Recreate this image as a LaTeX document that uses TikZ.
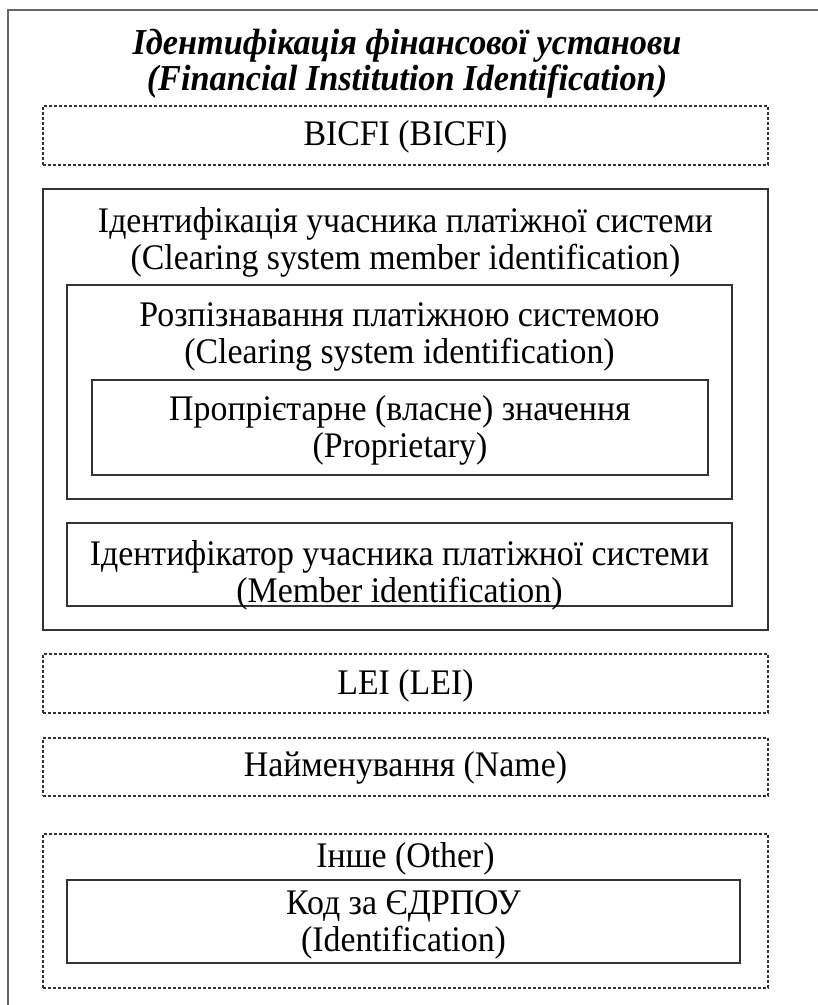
\documentclass[tikz,border=0pt]{standalone}
\usepackage{fontspec}
\setmainfont[FakeStretch=0.94]{Liberation Serif}
\usetikzlibrary{fit}
\begin{document}
\begin{tikzpicture}[x=1pt,y=-1pt,
  frame/.style={draw=black!60, line width=1.6pt},
  dbox/.style={draw=black!80, line width=1.1pt, dash pattern=on 3pt off 2pt, inner sep=0pt},
  sbox/.style={draw=black!80, line width=1.3pt, inner sep=0pt},
  txt/.style={font=\fontsize{36}{37}\selectfont, align=center, inner sep=0pt},
  ttl/.style={font=\fontsize{36.5}{36}\selectfont\bfseries\itshape, align=center, inner sep=0pt}]
\useasboundingbox (0,0) rectangle (818,1005);
% outer frame (continues beyond the page)
\coordinate (fbl) at (8,1010);
\coordinate (ftl) at (8,10);
\coordinate (ftr) at (823,10);
\draw[frame] (fbl) -- (ftl) -- (ftr);
% title
\node[ttl] (title) at (407,64) {Ідентифікація фінансової установи\\(Financial Institution Identification)};
% BICFI
\node[dbox, fit={(43,106)(768,165)}] (bicfi) {};
\node[txt] (bicfit) at (405.5,137) {BICFI (BICFI)};
% clearing system member identification
\node[sbox, fit={(43,189)(768,630)}] (csm) {};
\node[txt] (csmt) at (405.5,242) {Ідентифікація учасника платіжної системи\\(Clearing system member identification)};
\node[sbox, fit={(67,285)(732,499)}] (csi) {};
\node[txt] (csit) at (399.5,337) {Розпізнавання платіжною системою\\(Clearing system identification)};
\node[sbox, fit={(92,380)(708,475)}] (prop) {};
\node[txt] (propt) at (400,430) {Пропрієтарне (власне) значення\\(Proprietary)};
\node[sbox, fit={(67,523)(732,606)}] (mid) {};
\node[txt] (midt) at (399.5,575) {Ідентифікатор учасника платіжної системи\\(Member identification)};
% LEI
\node[dbox, fit={(43,654)(768,713)}] (lei) {};
\node[txt] (leit) at (405.5,686) {LEI (LEI)};
% Name
\node[dbox, fit={(43,738)(768,796)}] (name) {};
\node[txt] (namet) at (405.5,768) {Найменування (Name)};
% Other
\node[dbox, fit={(43,834)(768,988)}] (other) {};
\node[txt] (othert) at (405.5,859) {Інше (Other)};
\node[sbox, fit={(67,880)(740,963)}] (ident) {};
\node[txt] (identt) at (403.5,925) {Код за ЄДРПОУ\\(Identification)};
\end{tikzpicture}
\end{document}
